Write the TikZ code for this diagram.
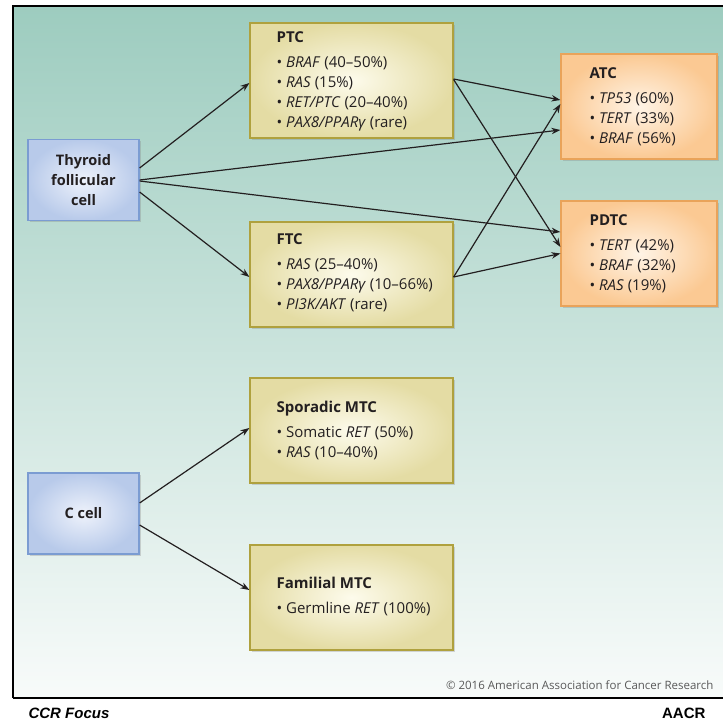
\documentclass[tikz,border=0pt]{standalone}
\usepackage{fontspec}
\setmainfont{Open Sans}
\newfontfamily\logofont{Liberation Sans}
\usetikzlibrary{arrows.meta,calc,shadows}

\definecolor{bgtop}{HTML}{9DCCBF}
\definecolor{bgmid}{HTML}{CFE4DD}
\definecolor{bgbot}{HTML}{F8FBFA}
\definecolor{cellin}{HTML}{EEF2FB}
\definecolor{cellout}{HTML}{B8CAEA}
\definecolor{cellline}{HTML}{7B9CD2}
\definecolor{tumin}{HTML}{FDFBEC}
\definecolor{tumout}{HTML}{E4DCA4}
\definecolor{tumline}{HTML}{AFA13E}
\definecolor{advin}{HTML}{FFF4E6}
\definecolor{advout}{HTML}{FBC993}
\definecolor{advline}{HTML}{E9A35A}
\definecolor{txt}{HTML}{231F20}

\begin{document}
\begin{tikzpicture}[x=1pt,y=-1pt,
  cellbox/.style={draw=cellline, line width=1.2pt, inner color=cellin,
    outer color=cellout, minimum width=111pt, minimum height=81pt,
    align=center, text=txt, font=\fontsize{14.5}{20}\selectfont\bfseries,
    drop shadow={opacity=.3, shadow xshift=2pt, shadow yshift=-2pt}},
  tumbox/.style={draw=tumline, line width=1.2pt, inner color=tumin,
    outer color=tumout, minimum width=203pt, minimum height=105pt,
    drop shadow={opacity=.3, shadow xshift=2pt, shadow yshift=-2pt}},
  advbox/.style={tumbox, draw=advline, inner color=advin,
    outer color=advout, minimum width=156pt},
  boxtext/.style={anchor=west, align=left, inner sep=0pt, text=txt,
    font=\fontsize{15}{20}\selectfont},
  link/.style={-{Stealth[length=9pt,width=6.5pt]}, line width=1.2pt, draw=txt}
]
  \useasboundingbox[fill=white] (0,0) rectangle (723,722);
  % background panel
  \shade[top color=bgtop, middle color=bgmid, bottom color=bgbot]
    (13,6) rectangle (723,698);
  \draw[line width=1.5pt] (723,6) -- (13,6) -- (13,698);
  \draw[line width=2pt] (13,698) -- (723,698);

  % cells of origin
  \node[cellbox] (thyroid) at (83.5,180) {Thyroid\\follicular\\cell};
  \node[cellbox] (ccell) at (83.5,513.5) {C cell};

  % differentiated tumours
  \node[tumbox, minimum height=115pt] (ptc) at (351.5,80.5) {};
  \node[tumbox] (ftc) at (351.5,274.5) {};
  \node[tumbox] (spor) at (351.5,430.5) {};
  \node[tumbox] (fam) at (351.5,597.5) {};

  % advanced tumours
  \node[advbox] (atc) at (639,106.5) {};
  \node[advbox] (pdtc) at (639,253.5) {};

  % box contents
  \node[boxtext] (ptctext) at ([xshift=27pt,yshift=-1pt]ptc.west)
    {\textbf{PTC}\\[5pt]
     • \textit{BRAF} (40–50\%)\\
     • \textit{RAS} (15\%)\\
     • \textit{RET/PTC} (20–40\%)\\
     • \textit{PAX8/PPARγ} (rare)};
  \node[boxtext] (ftctext) at ([xshift=27pt,yshift=2pt]ftc.west)
    {\textbf{FTC}\\[5pt]
     • \textit{RAS} (25–40\%)\\
     • \textit{PAX8/PPARγ} (10–66\%)\\
     • \textit{PI3K/AKT} (rare)};
  \node[boxtext] (sportext) at ([xshift=27pt]spor.west)
    {\textbf{Sporadic MTC}\\[5pt]
     • Somatic \textit{RET} (50\%)\\
     • \textit{RAS} (10–40\%)};
  \node[boxtext] (famtext) at ([xshift=27pt,yshift=1pt]fam.west)
    {\textbf{Familial MTC}\\[5pt]
     • Germline \textit{RET} (100\%)};
  \node[boxtext] (atctext) at ([xshift=29pt]atc.west)
    {\textbf{ATC}\\[5pt]
     • \textit{TP53} (60\%)\\
     • \textit{TERT} (33\%)\\
     • \textit{BRAF} (56\%)};
  \node[boxtext] (pdtctext) at ([xshift=29pt]pdtc.west)
    {\textbf{PDTC}\\[5pt]
     • \textit{TERT} (42\%)\\
     • \textit{BRAF} (32\%)\\
     • \textit{RAS} (19\%)};

  % progression arrows
  \draw[link] ($(thyroid.east)+(0,-12)$) -- ($(ptc.west)+(0,2.5)$);
  \draw[link] ($(thyroid.east)+(0,0)$) -- ($(atc.west)+(0,23.5)$);
  \draw[link] ($(thyroid.east)+(0,1)$) -- ($(pdtc.west)+(0,-21.5)$);
  \draw[link] ($(thyroid.east)+(0,12)$) -- ($(ftc.west)+(0,2.5)$);
  \draw[link] ($(ptc.east)+(0,-1.5)$) -- ($(atc.west)+(0,-6.5)$);
  \draw[link] ($(ptc.east)+(0,-1)$) -- ($(pdtc.west)+(0,-6.5)$);
  \draw[link] ($(ftc.east)+(0,2.5)$) -- ($(atc.west)+(0,-2.5)$);
  \draw[link] ($(ftc.east)+(0,2.5)$) -- ($(pdtc.west)+(0,0)$);
  \draw[link] ($(ccell.east)+(0,-10.5)$) -- ($(spor.west)+(0,-2.5)$);
  \draw[link] ($(ccell.east)+(0,11.5)$) -- ($(fam.west)+(0,-7.5)$);

  % credits
  \node[anchor=east, text=black!65, font=\fontsize{11.5}{14}\selectfont]
    (copy) at (717,685) {© 2016 American Association for Cancer Research};
  \node[anchor=west, font=\logofont\fontsize{15}{17}\selectfont\bfseries\itshape]
    (focus) at (25,713) {CCR Focus};
  \node[anchor=east, font=\logofont\fontsize{15}{17}\selectfont\bfseries]
    (aacr) at (709,713) {AACR};
\end{tikzpicture}
\end{document}
